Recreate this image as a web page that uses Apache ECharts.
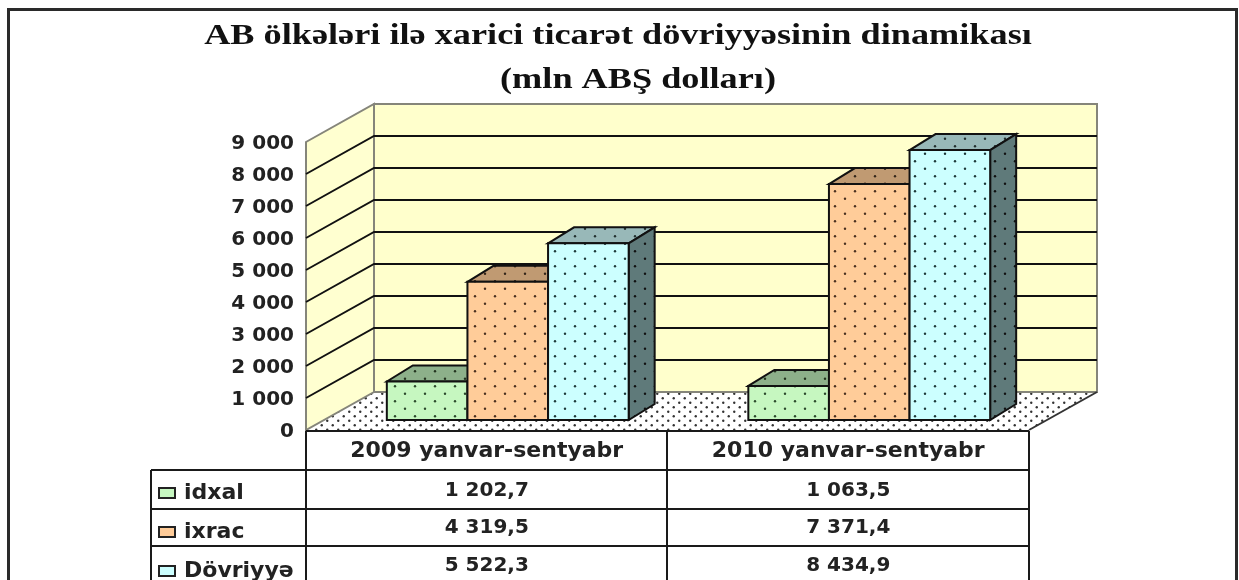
<!DOCTYPE html>
<html>
<head>
<meta charset="utf-8">
<style>html,body{margin:0;padding:0;background:#fff}#c{width:1239px;height:580px}</style>
<script src="https://cdn.jsdelivr.net/npm/echarts@6/dist/echarts.min.js"></script>
</head>
<body>
<div id="c"></div>
<script>
var titleLine1 = 'AB ölkələri ilə xarici ticarət dövriyyəsinin dinamikası';
var titleLine2 = '(mln ABŞ dolları)';
var categories = ['2009 yanvar-sentyabr', '2010 yanvar-sentyabr'];
var seriesNames = ['idxal', 'ixrac', 'Dövriyyə'];
var idxal = [1202.7, 1063.5];
var ixrac = [4319.5, 7371.4];
var dovriyye = [5522.3, 8434.9];
var yTicks = [1000, 2000, 3000, 4000, 5000, 6000, 7000, 8000, 9000];

var FONT = '"DejaVu Sans"';
function tile(bg, dot, w, h, r) {
  var c = document.createElement('canvas');
  c.width = w; c.height = h;
  var g = c.getContext('2d');
  g.fillStyle = bg; g.fillRect(0, 0, w, h);
  g.fillStyle = dot;
  [[w / 4, h / 4], [w * 3 / 4, h * 3 / 4]].forEach(function (p) {
    g.beginPath(); g.arc(p[0], p[1], r, 0, Math.PI * 2); g.fill();
  });
  return { image: c, repeat: 'repeat' };
}
function thousands(v) {
  return String(v).replace(/\B(?=(\d{3})+(?!\d))/g, ' ');
}
function cellText(v) {
  var p = v.toFixed(1).split('.');
  return thousands(p[0]) + ',' + p[1];
}
var styles = [
  { key: '#C6F7C0', front: tile('#C6F7C0', '#2c4a2c', 20, 15, 1.2), top: tile('#8DB08A', '#23331f', 20, 15, 1.2), side: tile('#6F8F6C', '#111', 20, 15, 1.2) },
  { key: '#FFCC99', front: tile('#FFCC99', '#4a3020', 20, 15, 1.2), top: tile('#C09A72', '#33261a', 20, 15, 1.2), side: tile('#8f7355', '#111', 20, 15, 1.2) },
  { key: '#CCFFFF', front: tile('#CCFFFF', '#1f3a3a', 20, 15, 1.2), top: tile('#98B8B8', '#22302f', 20, 15, 1.2), side: tile('#5F7A7A', '#111', 20, 15, 1.2) }
];
var floorFill = tile('#ffffff', '#333', 11, 9, 1.2);

var WALL_DX = 68, WALL_DY = -38;   // depth of the chart box
var BAR_DX = 26, BAR_DY = -16;     // depth of each bar
var BAR_SHIFT_X = 21, BAR_SHIFT_Y = -10;

function renderWall(params, api) {
  if (params.dataIndex !== 0) return null;
  var band = api.size([1, 0])[0];
  var x0 = api.coord([0, 0])[0] - band / 2;
  var x1 = api.coord([1, 0])[0] + band / 2;
  var y0 = api.coord([0, 0])[1];
  var yTop = api.coord([0, yTicks[yTicks.length - 1]])[1];
  var kids = [
    { type: 'polygon', shape: { points: [[x0, y0], [x0 + WALL_DX, y0 + WALL_DY], [x1 + WALL_DX, y0 + WALL_DY], [x1, y0]] },
      style: { fill: floorFill, stroke: null } },
    { type: 'polygon', shape: { points: [[x0, yTop], [x0 + WALL_DX, yTop + WALL_DY], [x0 + WALL_DX, y0 + WALL_DY], [x0, y0]] },
      style: { fill: '#FFFFD0', stroke: '#85857a', lineWidth: 2 } },
    { type: 'polygon', shape: { points: [[x0 + WALL_DX, yTop + WALL_DY], [x1 + WALL_DX, yTop + WALL_DY], [x1 + WALL_DX, y0 + WALL_DY], [x0 + WALL_DX, y0 + WALL_DY]] },
      style: { fill: '#FFFFCC', stroke: '#85857a', lineWidth: 2 } },
    { type: 'line', shape: { x1: x1, y1: y0, x2: x1 + WALL_DX, y2: y0 + WALL_DY }, style: { fill: null, stroke: '#333', lineWidth: 2 } }
  ];
  yTicks.slice(0, -1).forEach(function (t) {
    var y = api.coord([0, t])[1];
    kids.push({ type: 'polyline', shape: { points: [[x0, y], [x0 + WALL_DX, y + WALL_DY], [x1 + WALL_DX, y + WALL_DY]] },
      style: { fill: null, stroke: '#111', lineWidth: 2 } });
  });
  return { type: 'group', children: kids };
}

function barRenderer(si) {
  return function (params, api) {
    var cat = api.value(0), val = api.value(1);
    var band = api.size([1, 0])[0];
    var w = band * 0.223;
    var c = api.coord([cat, val]);
    var base = api.coord([cat, 0]);
    var x = c[0] + BAR_SHIFT_X - 1.5 * w + si * w;
    var yT = c[1] + BAR_SHIFT_Y, yB = base[1] + BAR_SHIFT_Y;
    var s = styles[si];
    function st(fill) { return { fill: fill, stroke: '#111', lineWidth: 2 }; }
    return { type: 'group', children: [
      { type: 'polygon', shape: { points: [[x, yT], [x + BAR_DX, yT + BAR_DY], [x + w + BAR_DX, yT + BAR_DY], [x + w, yT]] }, style: st(s.top) },
      { type: 'polygon', shape: { points: [[x + w, yT], [x + w + BAR_DX, yT + BAR_DY], [x + w + BAR_DX, yB + BAR_DY], [x + w, yB]] }, style: st(s.side) },
      { type: 'polygon', shape: { points: [[x, yT], [x + w, yT], [x + w, yB], [x, yB]] }, style: st(s.front) }
    ] };
  };
}

var ROW_Y = [491, 528, 566];
function renderCell(params, api) {
  var cat = api.value(0), row = api.value(1), val = api.value(2);
  var c = api.coord([cat, 0]);
  return { type: 'text', style: { x: c[0], y: ROW_Y[row], text: cellText(val), textAlign: 'center', textVerticalAlign: 'middle',
    font: 'bold 20px ' + FONT, fill: '#222' } };
}

var cells = [];
[idxal, ixrac, dovriyye].forEach(function (arr, row) {
  arr.forEach(function (v, cat) { cells.push([cat, row, v]); });
});

function makeBarSeries(si, values) {
  return {
    name: seriesNames[si], type: 'custom', coordinateSystem: 'cartesian2d', clip: false, silent: true, z: 3 + si,
    itemStyle: { color: styles[si].key, borderColor: '#222', borderWidth: 2 },
    renderItem: barRenderer(si),
    data: values.map(function (v, i) { return [i, v]; }),
    encode: { x: 0, y: 1 }
  };
}
function tline(x1, y1, x2, y2) {
  return { type: 'line', z: 50, silent: true, shape: { x1: x1, y1: y1, x2: x2, y2: y2 }, style: { stroke: '#1a1a1a', lineWidth: 2 } };
}
function titleText(text, x, y) {
  return { type: 'text', z: 50, silent: true, x: x, y: y, scaleX: 1.25,
    style: { text: text, textAlign: 'center', textVerticalAlign: 'middle', font: 'bold 29px "Liberation Serif"', fill: '#111' } };
}
var XL = 151, X0 = 306, XM = 667, XR = 1029;

var chart = echarts.init(document.getElementById('c'));
chart.setOption({
  animation: false,
  backgroundColor: '#ffffff',
  grid: { left: X0, top: 142, width: XR - X0, height: 288 },
  xAxis: { type: 'category', data: categories, axisTick: { show: false }, axisLine: { show: false },
    axisLabel: { margin: 10, interval: 0, fontFamily: FONT, fontWeight: 'bold', fontSize: 22, color: '#222' }, z: 60 },
  yAxis: { type: 'value', min: 0, max: 9000, interval: 1000, splitLine: { show: false }, axisTick: { show: false }, axisLine: { show: false },
    axisLabel: { margin: 12, fontFamily: FONT, fontWeight: 'bold', fontSize: 20, color: '#222', verticalAlign: 'top', lineHeight: 4, formatter: function (v) { return thousands(v); } } },
  legend: {
    data: seriesNames, orient: 'vertical', left: 158, top: 482, height: 130, padding: 0, icon: 'rect', itemWidth: 16, itemHeight: 10, itemGap: 17, selectedMode: false, z: 60,
    textStyle: { fontFamily: FONT, fontWeight: 'bold', fontSize: 22, lineHeight: 20, color: '#222', padding: [0, 0, 0, 4] }
  },
  graphic: [
    titleText(titleLine1, 618, 37),
    titleText(titleLine2, 638, 81),
    { type: 'rect', z: 50, silent: true, shape: { x: 8.5, y: 9.5, width: 1228, height: 620 }, style: { fill: null, stroke: '#2a2a2a', lineWidth: 3 } },
    tline(X0, 431, XR, 431), tline(XL, 470, XR, 470), tline(XL, 509, XR, 509), tline(XL, 546, XR, 546),
    tline(XL, 470, XL, 580), tline(X0, 431, X0, 580), tline(XM, 431, XM, 580), tline(XR, 431, XR, 580)
  ],
  series: [
    { name: 'wall', type: 'custom', coordinateSystem: 'cartesian2d', clip: false, silent: true, z: 1, renderItem: renderWall, data: [[0, 0]], encode: { x: 0, y: 1 } },
    makeBarSeries(0, idxal),
    makeBarSeries(1, ixrac),
    makeBarSeries(2, dovriyye),
    { name: 'table', type: 'custom', coordinateSystem: 'cartesian2d', clip: false, silent: true, z: 55, renderItem: renderCell, data: cells, encode: { x: 0 } }
  ]
});
</script>
</body>
</html>
